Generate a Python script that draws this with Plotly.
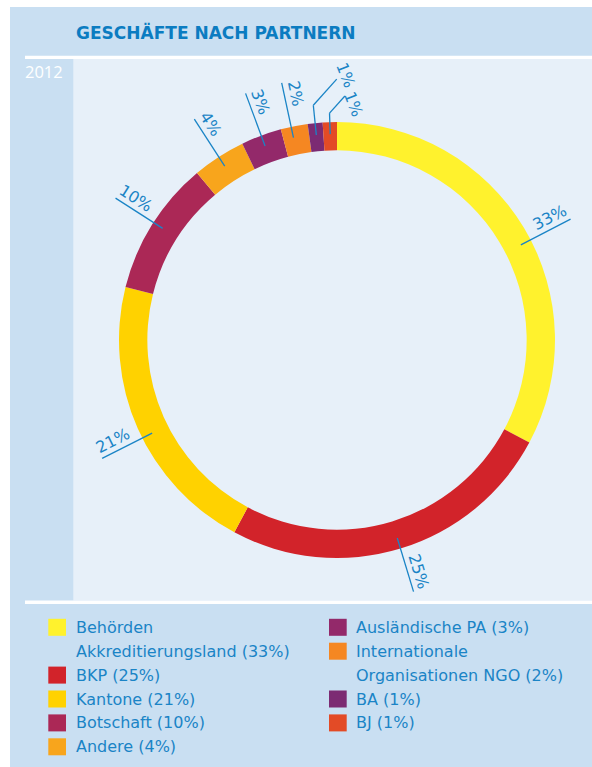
import math
import textwrap
import plotly.graph_objects as go

# ---------------- data ----------------
categories = ["Behörden Akkreditierungsland", "BKP", "Kantone", "Botschaft", "Andere",
              "Ausländische PA", "Internationale Organisationen NGO", "BA", "BJ"]
shares = [32.8, 25.0, 21.1, 10.0, 3.95, 3.0, 2.0, 1.1, 1.05]
colors = ["#fff22d", "#d2232a", "#ffd200", "#ab2856", "#f8a51c",
          "#93296a", "#f58722", "#7c2b73", "#e34b26"]
year_label = "2012"
title_text = "GESCHÄFTE NACH PARTNERN"

# ---------------- layout / style ----------------
W, H = 592, 767
BLUE = "#1a84c6"
BAND = "#c9dff2"
AREA = "#e7f0f9"
FONT = "DejaVu Sans"

# small manual nudges of the label leader lines (degrees), as placed in the original
label_nudge = [3.6, 0, -2.8, 0.6, 0, 0, -0.8, 0, 0]
# bent leader lines for the tiny slices
elbow_r = [236, 227]
diag_len = [35, 23]
small_up = [9.5, 5]
small_along = [-1, 10]


def px(x):
    return x / W


def py(y):
    return 1 - y / H


CX, CY, R = 337, 340, 218
HOLE = 0.87

fig = go.Figure()
fig.add_trace(go.Pie(
    values=shares, labels=categories, sort=False, direction="clockwise", rotation=0,
    hole=HOLE, textinfo="none", hoverinfo="label+percent", showlegend=False,
    marker=dict(colors=colors, line=dict(width=0)),
    domain=dict(x=[px(CX - R), px(CX + R)], y=[py(CY + R), py(CY - R)]),
))

shapes = []
annotations = []

# background panels
shapes.append(dict(type="rect", xref="paper", yref="paper", x0=px(10), x1=px(592), y0=py(767), y1=py(7),
                   fillcolor=BAND, line=dict(width=0), layer="below"))
shapes.append(dict(type="rect", xref="paper", yref="paper", x0=px(73.3), x1=px(592), y0=py(600.5), y1=py(59),
                   fillcolor=AREA, line=dict(width=0), layer="below"))
for y0, y1 in [(55.7, 59), (600.5, 604)]:
    shapes.append(dict(type="rect", xref="paper", yref="paper", x0=px(25), x1=px(592), y0=py(y1), y1=py(y0),
                       fillcolor="white", line=dict(width=0), layer="below"))

annotations.append(dict(text="<b>" + title_text + "</b>", x=px(74), y=py(32.5), xref="paper", yref="paper",
                        xanchor="left", yanchor="middle", showarrow=False,
                        font=dict(family=FONT, size=17, color="#0b7cc1")))
annotations.append(dict(text=year_label, x=px(44), y=py(71.5), xref="paper", yref="paper",
                        xanchor="center", yanchor="middle", showarrow=False,
                        font=dict(family="Open Sans", size=16.5, color="white")))

# ---------------- percentage labels ----------------
LBL_SIZE = 16


def text_len(s):
    return sum(0.95 if ch == "%" else 0.636 for ch in s) * LBL_SIZE


total = sum(shares)
cum = 0.0
small_idx = 0
for i, v in enumerate(shares):
    theta = (cum + v / 2) / total * 360.0 + label_nudge[i]
    cum += v
    t = math.radians(theta)
    ux, uy = math.sin(t), -math.cos(t)
    label = f"{round(v)}%"

    def P(r):
        return CX + r * ux, CY + r * uy

    if v >= 1.5:
        a = theta - 90
        if a > 90:
            a -= 180
        ar = math.radians(a)
        upx, upy = math.sin(ar), -math.cos(ar)
        x0, y0 = P(207)
        x1, y1 = P(263)
        shapes.append(dict(type="line", xref="paper", yref="paper", x0=px(x0), y0=py(y0), x1=px(x1), y1=py(y1),
                           line=dict(color=BLUE, width=1.3)))
        tx, ty = P(263 - text_len(label) / 2)
        tx += 11 * upx
        ty += 11 * upy
    else:
        a = 69
        ar = math.radians(a)
        upx, upy = math.sin(ar), -math.cos(ar)
        alx, aly = math.cos(ar), math.sin(ar)
        x0, y0 = P(206)
        x1, y1 = P(elbow_r[small_idx])
        d = math.radians(48)
        x2, y2 = x1 + diag_len[small_idx] * math.cos(d), y1 - diag_len[small_idx] * math.sin(d)
        for (xa, ya, xb, yb) in [(x0, y0, x1, y1), (x1, y1, x2, y2)]:
            shapes.append(dict(type="line", xref="paper", yref="paper", x0=px(xa), y0=py(ya), x1=px(xb), y1=py(yb),
                               line=dict(color=BLUE, width=1.3)))
        tx = x2 + small_up[small_idx] * upx + small_along[small_idx] * alx
        ty = y2 + small_up[small_idx] * upy + small_along[small_idx] * aly
        small_idx += 1
    annotations.append(dict(text=label, x=px(tx), y=py(ty), xref="paper", yref="paper",
                            xanchor="center", yanchor="middle", textangle=a, showarrow=False,
                            font=dict(family=FONT, size=LBL_SIZE, color=BLUE)))

# ---------------- legend ----------------
col_sq_x = [48.3, 329]
col_tx_x = [74, 354]
row_y0, row_step = 627.3, 23.9
rows = [0, 0]
for i, (cat, v, c) in enumerate(zip(categories, shares, colors)):
    col = 0 if i < 5 else 1
    lines = textwrap.wrap(f"{cat} ({round(v)}%)", 26)
    yc = row_y0 + rows[col] * row_step
    shapes.append(dict(type="rect", xref="paper", yref="paper", x0=px(col_sq_x[col]), x1=px(col_sq_x[col] + 17.7),
                       y0=py(yc + 8.5), y1=py(yc - 8.5), fillcolor=c, line=dict(width=0)))
    for ln in lines:
        yc = row_y0 + rows[col] * row_step
        annotations.append(dict(text=ln, x=px(col_tx_x[col]), y=py(yc), xref="paper", yref="paper",
                                xanchor="left", yanchor="middle", showarrow=False,
                                font=dict(family=FONT, size=16, color=BLUE)))
        rows[col] += 1

fig.update_layout(width=W, height=H, margin=dict(l=0, r=0, t=0, b=0),
                  paper_bgcolor="white", plot_bgcolor="white",
                  shapes=shapes, annotations=annotations, showlegend=False)

fig.write_html("out.html", config={"displayModeBar": False},
               post_script="document.body.style.margin='0';")
